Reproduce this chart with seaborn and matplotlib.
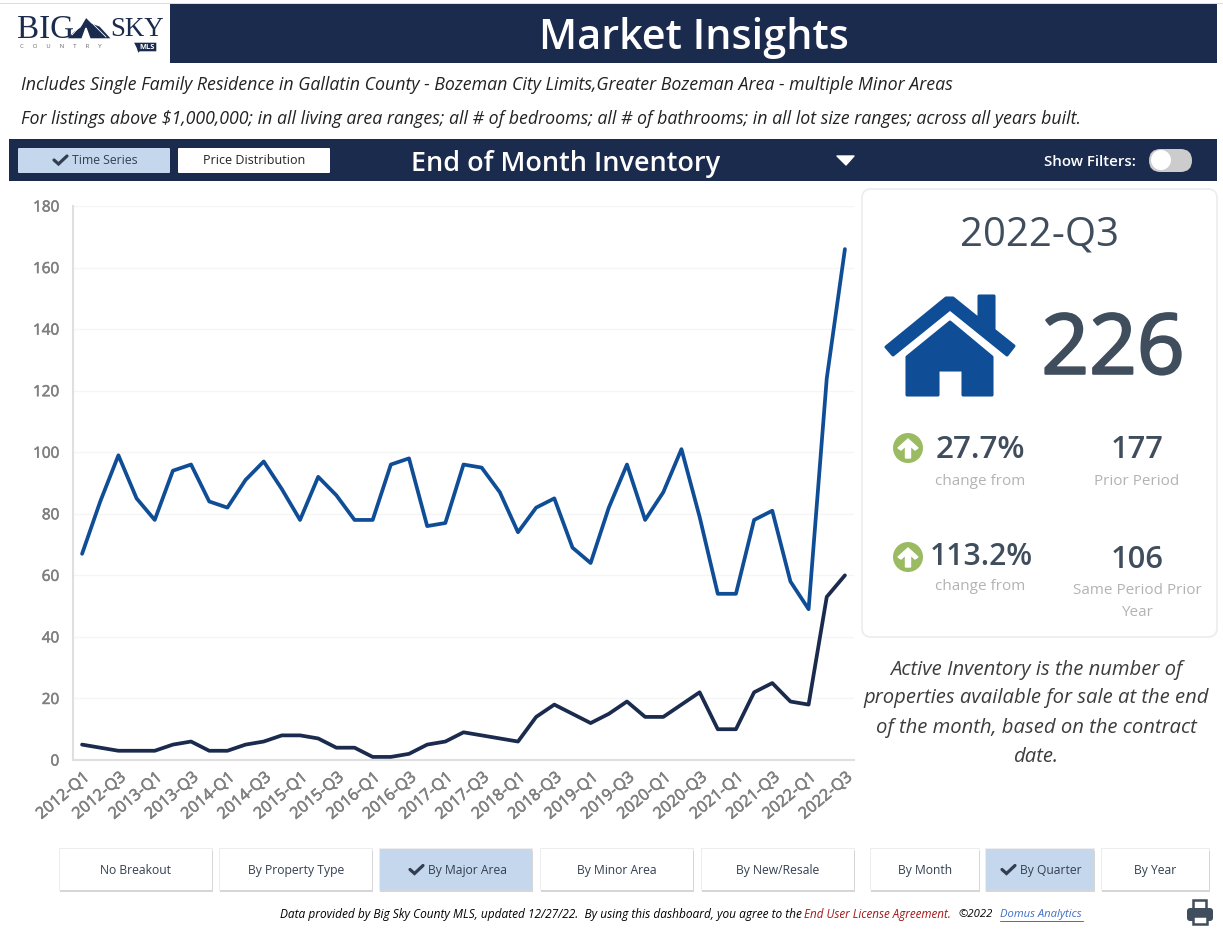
import pandas as pd
import matplotlib
matplotlib.use('Agg')
import matplotlib.pyplot as plt
import matplotlib.patheffects as pe
from matplotlib.patches import Rectangle, FancyBboxPatch, Polygon, Circle
import seaborn as sns

sns.set_theme(style='white')
plt.rcParams['font.family'] = ['Open Sans', 'DejaVu Sans']

NAVY = '#1b2b4e'
BLUE = '#0f4e96'
SLATE = '#3f4d5c'
ACTIVE = '#c5d7ec'
INK = '#333f50'

quarters = [f'{y}-Q{q}' for y in range(2012, 2023) for q in range(1, 5)][:43]
series_top = [67, 84, 99, 85, 78, 94, 96, 84, 82, 91, 97, 88, 78, 92, 86, 78, 78, 96, 98, 76, 77, 96,
              95, 87, 74, 82, 85, 69, 64, 82, 96, 78, 87, 101, 79, 54, 54, 78, 81, 58, 49, 124, 166]
series_bottom = [5, 4, 3, 3, 3, 5, 6, 3, 3, 5, 6, 8, 8, 7, 4, 4, 1, 1, 2, 5, 6, 9,
                 8, 7, 6, 14, 18, 15, 12, 15, 19, 14, 14, 18, 22, 10, 10, 22, 25, 19, 18, 53, 60]
y_ticks = list(range(0, 181, 20))

W, H = 1223, 933
fig = plt.figure(figsize=(W / 100, H / 100), dpi=100, facecolor='white')

# page overlay, in pixels
page = fig.add_axes([0, 0, 1, 1])
page.set_xlim(0, W)
page.set_ylim(H, 0)
page.axis('off')


def txt(x, y, s, px, color='black', ha='center', thick=0, **kw):
    t = page.text(x, y + 1 + 0.065 * px, s, fontsize=px * 0.72, color=color, ha=ha, va='center', **kw)
    if thick:
        t.set_path_effects([pe.withStroke(linewidth=thick, foreground=color)])
    return t


def rect(x0, y0, x1, y1, color, **kw):
    page.add_patch(Rectangle((x0, y0), x1 - x0, y1 - y0, facecolor=color, edgecolor='none', **kw))


def rbox(x0, y0, x1, y1, r, face, edge='none', lw=0, **kw):
    page.add_patch(FancyBboxPatch((x0 + r, y0 + r), x1 - x0 - 2 * r, y1 - y0 - 2 * r,
                                  boxstyle=f'round,pad={r},rounding_size={r}',
                                  facecolor=face, edgecolor=edge, linewidth=lw, **kw))


def check(x, y):
    page.plot([x + 1, x + 5.5, x + 14], [y + 5, y + 9, y + 1], color=INK, lw=2.3, solid_joinstyle='miter')


def button(x0, x1, y0, y1, label, check_x=None, px=12.1):
    rect(x0 - 1, y0 - 1, x1 + 1, y1 + 1, '#ededed')
    rect(x0, y0 + 2, x1 + 1, y1 + 2, '#d6d6d6')
    rect(x0, y0, x1, y1, ACTIVE if check_x else 'white')
    cx = (x0 + x1) / 2
    if check_x:
        txt(cx + 11, (y0 + y1) / 2 - 1, label, px, color=INK)
        check(check_x, (y0 + y1) / 2 - 5)
    else:
        txt(cx, (y0 + y1) / 2 - 1, label, px, color=INK)


# header
rect(0, 3, W, 4, '#dddddd')
rect(170, 4, 1217, 63, NAVY)
txt(694, 34, 'Market Insights', 41.4, color='white', weight='semibold')

# logo
txt(17, 27, 'BIG', 33, color=NAVY, ha='left', family='Liberation Serif')
txt(110, 27, 'SKY', 27, color=NAVY, ha='left', family='Liberation Serif')
page.add_patch(Polygon([(66, 39), (74, 31), (80, 27), (86, 17), (92, 23), (100, 26), (112, 39)], facecolor=NAVY))
page.add_patch(Polygon([(82, 39), (86, 28), (90, 39)], facecolor='white'))
page.plot([72, 82], [35, 24], color='white', lw=0.6)
page.plot([93, 106], [24, 37], color='white', lw=0.6)
txt(20, 45, 'C      O      U      N      T      R      Y', 6, color='#666666', ha='left')
page.add_patch(Polygon([(133, 42), (157, 42), (157, 52), (140, 52), (138, 54), (136, 48)], facecolor=NAVY))
txt(147, 46, 'MLS', 7.5, color='white', weight='bold')

# description lines
txt(21, 83, 'Includes Single Family Residence in Gallatin County - Bozeman City Limits,Greater Bozeman Area - multiple Minor Areas',
    17.7, color='#222222', ha='left', style='italic')
txt(21, 117, 'For listings above $1,000,000; in all living area ranges; all # of bedrooms; all # of bathrooms; in all lot size ranges; across all years built.',
    17.8, color='#222222', ha='left', style='italic')

# control bar
rect(9, 139, 1217, 181, NAVY)
rbox(18, 148, 170, 173, 1, ACTIVE)
rbox(178, 148, 330, 173, 1, 'white')
txt(105, 159, 'Time Series', 12.2, color=INK)
check(53, 155)
txt(254, 159, 'Price Distribution', 12.5, color='#222222')
txt(566, 161, 'End of Month Inventory', 27, color='white', weight='semibold')
page.add_patch(Polygon([(837, 156), (854, 156), (846, 165)], facecolor='white', edgecolor='white', linewidth=1, joinstyle='round'))
txt(1136, 160, 'Show Filters:', 15, color='white', ha='right', weight='semibold')
rbox(1149, 149, 1192, 172, 11.5, '#cccccc')
page.add_patch(Circle((1161, 160), 10, facecolor='white', edgecolor='none'))

# card on the right
rbox(862, 189, 1217, 637, 9, 'white', edge='#ececec', lw=1.2)
txt(1040, 232, '2022-Q3', 40, color=SLATE)
txt(1113, 346, '226', 83.5, color=SLATE, thick=1.6)

# house icon
page.add_patch(Polygon([(886, 347), (946, 298), (953, 298), (979, 319), (979, 296), (994, 296), (994, 330),
                        (1014, 346), (1007, 355), (950, 309), (893, 355)],
                       facecolor=BLUE, edgecolor=BLUE, linewidth=2.2, joinstyle='round'))
page.add_patch(Polygon([(907, 357), (950, 322), (992, 357), (992, 395), (963, 395), (963, 370), (938, 370),
                        (938, 395), (907, 395)],
                       facecolor=BLUE, edgecolor=BLUE, linewidth=2.2, joinstyle='round'))

# change figures
for cy in (448, 557):
    page.add_patch(Circle((908, cy), 15, facecolor='#9bbb62', edgecolor='none'))
    page.add_patch(Polygon([(898, cy), (908, cy - 9), (918, cy), (915, cy + 2), (910.5, cy - 2), (910.5, cy + 10),
                            (905.5, cy + 10), (905.5, cy - 2), (901, cy + 2)], facecolor='white'))
txt(980, 447, '27.7%', 31.5, color=SLATE, weight='semibold')
txt(981, 554, '113.2%', 30, color=SLATE, weight='semibold')
txt(1137, 447, '177', 31, color=SLATE, weight='semibold')
txt(1137, 557, '106', 31, color=SLATE, weight='semibold')
txt(980, 480, 'change from', 15.2, color='#b3b3b3')
txt(980, 585, 'change from', 15.2, color='#b3b3b3')
txt(1137, 480, 'Prior Period', 15.2, color='#b3b3b3')
txt(1137, 589, 'Same Period Prior', 15.2, color='#b3b3b3')
txt(1137, 611, 'Year', 15.2, color='#b3b3b3')

# note under the card
note = ['Active Inventory is the number of', 'properties available for sale at the end',
        'of the month, based on the contract', 'date.']
for line, ny in zip(note, [668, 696, 726, 755]):
    txt(1036, ny, line, 20.3, color='#3c3c3c', style='italic')

# bottom buttons
for x0, x1, label, chk in [(60, 212, 'No Breakout', None), (220, 372, 'By Property Type', None),
                           (380, 532, 'By Major Area', 409), (541, 693, 'By Minor Area', None),
                           (702, 854, 'By New/Resale', None), (871, 979, 'By Month', None),
                           (986, 1094, 'By Quarter', 1001), (1102, 1209, 'By Year', None)]:
    button(x0, x1, 849, 890, label, chk)

# footer
txt(280, 913, 'Data provided by Big Sky County MLS, updated 12/27/22.  By using this dashboard, you agree to the',
    11.9, ha='left', style='italic')
txt(804, 913, 'End User License Agreement.', 11.6, color='#a31515', ha='left', style='italic')
txt(958, 913, '\u00a92022', 11.2, ha='left', style='italic')
txt(1000, 913, 'Domus Analytics', 11.3, color='#3f6fc4', ha='left', style='italic')
page.plot([1000, 1083], [921, 921], color='#3f6fc4', lw=0.7)

# printer icon
page.add_patch(Rectangle((1193, 900), 13, 10, facecolor='white', edgecolor=SLATE, linewidth=1.8))
rbox(1187, 908, 1213, 921, 3, SLATE)
page.add_patch(Rectangle((1193, 916), 14, 8, facecolor='white', edgecolor=SLATE, linewidth=1.8))

# chart
ax = fig.add_axes([73 / W, 1 - 760 / H, (854 - 73) / W, (760 - 206) / H])
ax.patch.set_alpha(0)
df = pd.DataFrame({
    'pos': list(range(len(quarters))) * 2,
    'value': series_top + series_bottom,
    'group': ['top'] * len(quarters) + ['bottom'] * len(quarters),
})
sns.lineplot(data=df, x='pos', y='value', hue='group', palette={'top': BLUE, 'bottom': NAVY},
             linewidth=2.7, legend=False, ax=ax, errorbar=None)
ax.set_xlim(-0.5, len(quarters) - 0.5)
ax.set_ylim(0, 180)
ax.set_xlabel('')
ax.set_ylabel('')
ax.set_yticks(y_ticks)
ax.set_xticks(range(0, len(quarters), 2))
ax.set_xticklabels(quarters[::2], rotation=40, ha='right', rotation_mode='anchor')
ax.tick_params(axis='y', length=0, labelsize=11, labelcolor='#7f7f7f', pad=10)
ax.tick_params(axis='x', length=0, labelsize=11.6, labelcolor='#7f7f7f', pad=7)
for lab in ax.get_xticklabels() + ax.get_yticklabels():
    lab.set_path_effects([pe.withStroke(linewidth=0.4, foreground='#7f7f7f')])
ax.grid(axis='y', color='#f5f5f5', linewidth=1)
ax.set_axisbelow(True)
for side in ('top', 'right'):
    ax.spines[side].set_visible(False)
for side in ('left', 'bottom'):
    ax.spines[side].set_color('#dfdfdf')
    ax.spines[side].set_linewidth(1.5)

fig.savefig('out.png', dpi=100)
